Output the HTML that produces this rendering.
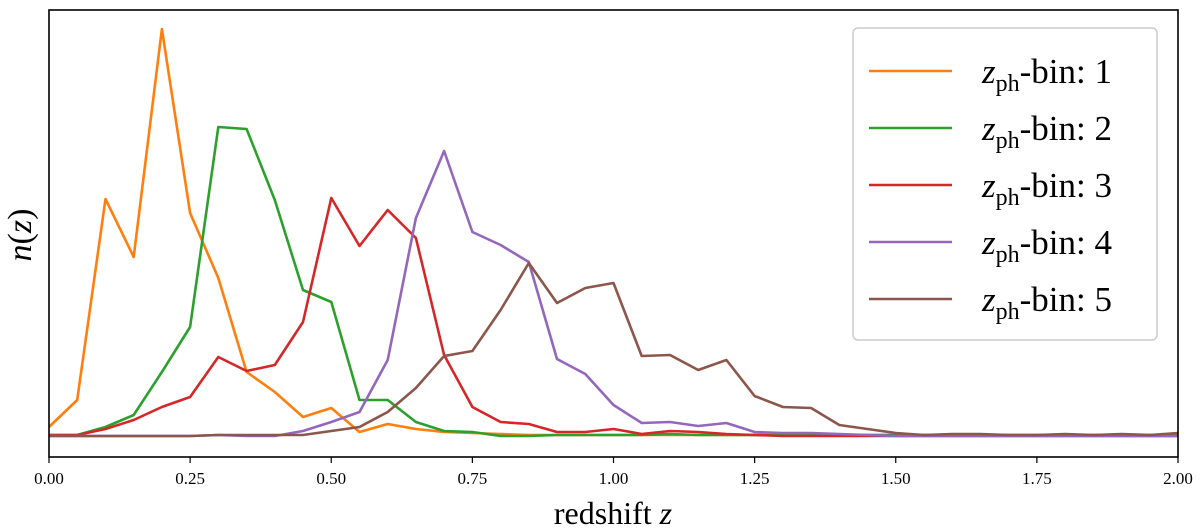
<!DOCTYPE html>
<html><head><meta charset="utf-8">
<style>
html,body{margin:0;padding:0;background:#fff;}
svg{display:block;font-family:"Liberation Serif",serif;}
</style></head>
<body>
<svg id="chart" width="1200" height="532" viewBox="0 0 1200 532" xmlns="http://www.w3.org/2000/svg"></svg>
<script>
const zValues = [];
for (let i = 0; i <= 40; i++) zValues.push(+(i * 0.05).toFixed(2));
const bin1 = [10,37,238,180,408,224,159,65,45,20,29,5,13,8,5,4,3,2,2,2,2,2,2,2,2,2,2,2,2,2,2,2,2,2,2,2,2,2,2,2,2];
const bin2 = [2,2,10,22,65,110,310,308,237,147,135,37,37,15,6,5,1,1,2,2,2,2,3,2,2,2,2,2,2,2,2,2,2,2,2,2,2,2,2,2,2];
const bin3 = [2,2,8,17,30,40,80,66,72,115,239,191,227,199,82,30,15,13,5,5,8,3,6,5,3,2,1,1,1,1,1,1,1,1,1,1,1,1,1,1,1];
const bin4 = [1,1,1,1,1,1,2,1,1,6,15,25,77,219,286,205,192,175,78,63,32,14,15,11,14,5,4,4,3,2,1,1,1,1,1,1,1,1,1,1,1];
const bin5 = [1,1,1,1,1,1,2,2,2,2,6,10,25,49,81,86,127,174,134,149,154,81,82,67,77,41,30,29,12,8,4,2,3,3,2,2,3,2,3,2,4];
const seriesNames = ["1","2","3","4","5"];
const seriesColors = ["#ff7f0e","#2ca02c","#d62728","#9467bd","#8c564b"];
const xTicks = [0,0.25,0.5,0.75,1.0,1.25,1.5,1.75,2.0];
const xTickLabels = ["0.00","0.25","0.50","0.75","1.00","1.25","1.50","1.75","2.00"];

const L=49,R=1178,T=10,B=457;
const xDom=[0,2], yDom=[-20,427];
const xs=v=>L+(v-xDom[0])/(xDom[1]-xDom[0])*(R-L);
const ys=v=>B-(v-yDom[0])/(yDom[1]-yDom[0])*(B-T);
const NS="http://www.w3.org/2000/svg";
const svg=document.getElementById('chart');
function mk(tag,attrs,parent){const e=document.createElementNS(NS,tag);for(const k in attrs)e.setAttribute(k,attrs[k]);(parent||svg).appendChild(e);return e;}

const lines=mk('g',{});


[bin1,bin2,bin3,bin4,bin5].forEach((d,si)=>{
  const pts=d.map((v,i)=>xs(zValues[i]).toFixed(1)+','+ys(v).toFixed(1)).join(' ');
  const p=mk('polyline',{points:pts,fill:'none',stroke:seriesColors[si],'stroke-width':2.6,'stroke-linejoin':'round'},lines);
  
  
});

const frame=mk('rect',{x:L,y:T,width:R-L,height:B-T,fill:'none',stroke:'#000','stroke-width':1.6});



const ticks=mk('g',{});


xTicks.forEach((t,i)=>{
  const x=xs(t);
  const tk=mk('line',{x1:x,x2:x,y1:B,y2:B+6,stroke:'#000','stroke-width':1.2},ticks);
  
  
  const tx=mk('text',{x:x,y:B+27,'text-anchor':'middle','font-size':17},ticks);
  tx.textContent=xTickLabels[i];
  
  
});

const xt=mk('text',{x:613,y:524,'text-anchor':'middle','font-size':32});
xt.innerHTML='redshift <tspan font-style="italic">z</tspan>';


const yt=mk('text',{x:0,y:0,'text-anchor':'middle','font-size':34,transform:'translate(31,235) rotate(-90)'});
yt.innerHTML='<tspan font-style="italic">n</tspan>(<tspan font-style="italic">z</tspan>)';



const lg=mk('g',{});


mk('rect',{x:853,y:28,width:304,height:312,rx:5,fill:'#fff','fill-opacity':0.85,stroke:'#ccc','stroke-width':1.5},lg);
seriesNames.forEach((n,i)=>{
  const y=71+i*57;
  const g=mk('g',{},lg);
  
  
  mk('line',{x1:869,x2:952,y1:y,y2:y,stroke:seriesColors[i],'stroke-width':2.6},g);
  const t=mk('text',{x:982,y:y+12,'font-size':35},g);
  t.innerHTML='<tspan font-style="italic">z</tspan><tspan font-size="24" dy="8">ph</tspan><tspan dy="-8">-bin:  '+n+'</tspan>';
});
</script>
</body></html>
